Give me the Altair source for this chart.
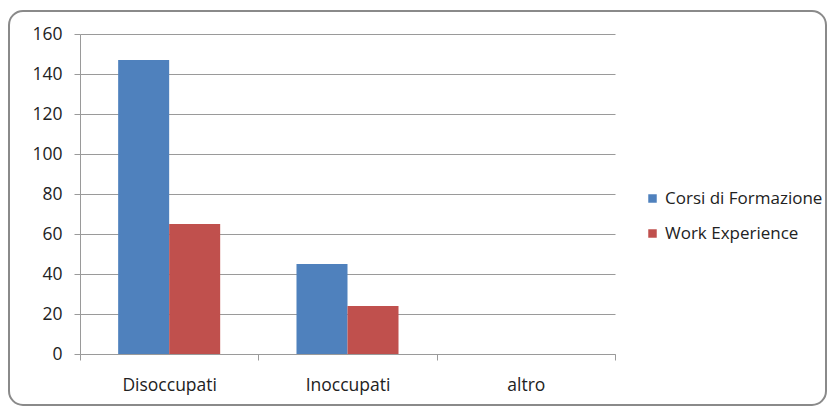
import altair as alt
import pandas as pd

categories = ["Disoccupati", "Inoccupati", "altro"]
series = ["Corsi di Formazione", "Work Experience"]
corsi = [147, 45, 0]
work = [65, 24, 0]
y_ticks = [0, 20, 40, 60, 80, 100, 120, 140, 160]

rows = []
for c, a, b in zip(categories, corsi, work):
    rows.append({"categoria": c, "serie": series[0], "valore": a})
    rows.append({"categoria": c, "serie": series[1], "valore": b})
df = pd.DataFrame(rows)

FONT = "Open Sans"
GRAY = "#9a9a9a"
FS = 17.5

bars = alt.Chart(df).mark_bar().encode(
    x=alt.X("categoria:N", sort=categories, title=None,
            scale=alt.Scale(paddingInner=0, paddingOuter=0),
            axis=alt.Axis(labelAngle=0, tickBand="extent", tickSize=6,
                          labelPadding=16, domainColor=GRAY, tickColor=GRAY,
                          labelFont=FONT, labelFontSize=FS, labelColor="#222222")),
    xOffset=alt.XOffset("serie:N", sort=series,
                        scale=alt.Scale(paddingInner=0, paddingOuter=0.748)),
    y=alt.Y("valore:Q", title=None,
            scale=alt.Scale(domain=[0, 160], nice=False),
            axis=alt.Axis(values=y_ticks, tickSize=6, labelPadding=12,
                          domainColor=GRAY, tickColor=GRAY, gridColor=GRAY,
                          labelFont=FONT, labelFontSize=FS, labelColor="#222222")),
    color=alt.Color("serie:N", sort=series, title=None,
                    scale=alt.Scale(domain=series, range=["#4F81BD", "#C0504D"]),
                    legend=alt.Legend(orient="none", legendX=564, legendY=156,
                                      symbolType="square", symbolSize=72,
                                      symbolStrokeWidth=0, rowPadding=17,
                                      labelFont=FONT, labelFontSize=17,
                                      labelLimit=400,
                                      labelColor="#222222", labelOffset=4)),
)

border = alt.Chart(alt.Data(values=[{}])).mark_rect(
    fill=None, stroke="#8a8a8a", strokeWidth=2, cornerRadius=14
).encode(
    x=alt.value(-71), x2=alt.value(746), y=alt.value(-23), y2=alt.value(371)
)

chart = alt.layer(bars, border).properties(
    width=535, height=320,
    padding={"left": 0, "top": 2, "right": 0, "bottom": 0},
).configure_view(stroke=None)

chart.save("out.html", embed_options={"renderer": "svg", "actions": False})
